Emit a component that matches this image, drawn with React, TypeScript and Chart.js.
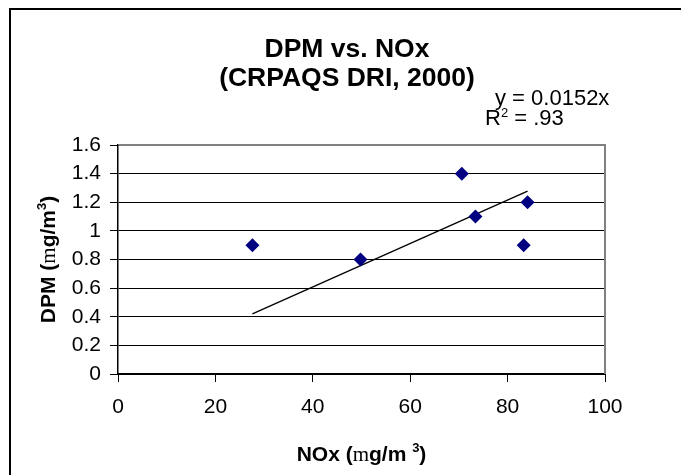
import React, { useEffect, useRef } from 'react';
import { Chart, registerables } from 'chart.js';

Chart.register(...registerables);

// ---- data ----
const noxValues = [27.6, 49.8, 70.6, 73.4, 84.1, 83.3];
const dpmValues = [0.9, 0.8, 1.4, 1.1, 1.2, 0.9];
const trendSlope = 0.0152;
const xTickLabels = ['0', '20', '40', '60', '80', '100'];
const yTickLabels = ['0', '0.2', '0.4', '0.6', '0.8', '1', '1.2', '1.4', '1.6'];
const titleLines = ['DPM vs. NOx', '(CRPAQS DRI, 2000)'];
const equationText = 'y = 0.0152x';
const r2Value = '.93';

const SANS = '"Liberation Sans", Arial, sans-serif';
const SERIF = '"Liberation Serif", "Times New Roman", serif';

type Run = { t: string; font: string; dy?: number };

function runsWidth(ctx: CanvasRenderingContext2D, runs: Run[]) {
  let w = 0;
  for (const r of runs) {
    ctx.font = r.font;
    w += ctx.measureText(r.t).width;
  }
  return w;
}

function drawRuns(ctx: CanvasRenderingContext2D, runs: Run[], x: number, y: number) {
  let cx = x;
  for (const r of runs) {
    ctx.font = r.font;
    ctx.fillText(r.t, cx, y + (r.dy || 0));
    cx += ctx.measureText(r.t).width;
  }
}

const decorPlugin = {
  id: 'decor',
  beforeDraw(chart: any) {
    const ctx = chart.ctx as CanvasRenderingContext2D;
    ctx.save();
    ctx.fillStyle = '#ffffff';
    ctx.fillRect(0, 0, chart.width, chart.height);
    ctx.strokeStyle = '#000000';
    ctx.lineWidth = 2;
    ctx.beginPath();
    ctx.moveTo(10, chart.height + 10);
    ctx.lineTo(10, 9);
    ctx.lineTo(chart.width + 10, 9);
    ctx.stroke();
    ctx.restore();
  },
  beforeDatasetsDraw(chart: any) {
    const ctx = chart.ctx as CanvasRenderingContext2D;
    const a = chart.chartArea;
    ctx.save();
    ctx.strokeStyle = '#808080';
    ctx.lineWidth = 2;
    ctx.beginPath();
    ctx.moveTo(a.left + 1, a.top);
    ctx.lineTo(a.right, a.top);
    ctx.lineTo(a.right, a.bottom);
    ctx.stroke();
    ctx.restore();
  },
  afterDraw(chart: any) {
    const ctx = chart.ctx as CanvasRenderingContext2D;
    const a = chart.chartArea;
    ctx.save();
    ctx.fillStyle = '#000000';
    ctx.textBaseline = 'alphabetic';

    // Title
    ctx.textAlign = 'center';
    ctx.font = `bold 26.5px ${SANS}`;
    ctx.fillText(titleLines[0], 347, 57);
    ctx.fillText(titleLines[1], 347, 86);

    // Equation annotation
    ctx.textAlign = 'left';
    drawRuns(ctx, [{ t: equationText, font: `22px ${SANS}` }], 495, 105);
    drawRuns(
      ctx,
      [
        { t: 'R', font: `22px ${SANS}` },
        { t: '2', font: `13px ${SANS}`, dy: -8 },
        { t: ' = ' + r2Value, font: `22px ${SANS}` },
      ],
      485,
      125
    );

    // X axis title
    const bold = `bold 21px ${SANS}`;
    const xRuns: Run[] = [
      { t: 'NOx (', font: bold },
      { t: 'm', font: `21px ${SERIF}` },
      { t: 'g/m ', font: bold },
      { t: '3', font: `bold 13px ${SANS}`, dy: -9 },
      { t: ')', font: bold },
    ];
    const cx = (a.left + a.right) / 2;
    const xw = runsWidth(ctx, xRuns);
    drawRuns(ctx, xRuns, cx - xw / 2, 461);

    // Y axis title
    const yRuns: Run[] = [
      { t: 'DPM (', font: bold },
      { t: 'm', font: `21px ${SERIF}` },
      { t: 'g/m', font: bold },
      { t: '3', font: `bold 13px ${SANS}`, dy: -9 },
      { t: ')', font: bold },
    ];
    const yw = runsWidth(ctx, yRuns);
    ctx.translate(55, (a.top + a.bottom) / 2);
    ctx.rotate(-Math.PI / 2);
    drawRuns(ctx, yRuns, -yw / 2, 0);
    ctx.restore();
  },
};

export default function App() {
  const ref = useRef<HTMLCanvasElement>(null);

  useEffect(() => {
    const canvas = ref.current;
    if (!canvas) return;
    const points = noxValues.map((x, i) => ({ x, y: dpmValues[i] }));
    const xMin = Math.min(...noxValues);
    const xMax = Math.max(...noxValues);
    const trend = [
      { x: xMin, y: trendSlope * xMin },
      { x: xMax, y: trendSlope * xMax },
    ];

    const chart = new Chart(canvas, {
      type: 'scatter',
      data: {
        datasets: [
          {
            label: 'DPM',
            data: points,
            pointStyle: 'rectRot',
            pointRadius: 7,
            backgroundColor: '#000080',
            borderColor: '#000080',
            borderWidth: 0,
          },
          {
            label: 'Trend',
            data: trend,
            showLine: true,
            borderColor: '#000000',
            borderWidth: 1.3,
            pointRadius: 0,
            fill: false,
          },
        ],
      },
      options: {
        responsive: false,
        animation: false,
        devicePixelRatio: 1,
        layout: { padding: { left: 0, top: 145, right: 76, bottom: 61 } },
        plugins: {
          legend: { display: false },
          tooltip: { enabled: false },
          title: { display: false },
        },
        scales: {
          x: {
            type: 'linear',
            min: 0,
            max: 100,
            afterFit: (s: any) => {
              s.height = 40;
            },
            ticks: {
              stepSize: 20,
              color: '#000000',
              font: { family: SANS, size: 21 },
              padding: 13,
              callback: (v: any) => xTickLabels[Math.round(Number(v) / 20)],
            },
            grid: {
              drawOnChartArea: false,
              drawTicks: true,
              tickLength: 8,
              color: '#000000',
              tickColor: '#000000',
            },
            border: { color: '#000000', width: 2 },
          },
          y: {
            type: 'linear',
            min: 0,
            max: 1.6,
            afterFit: (s: any) => {
              s.width = 118;
            },
            ticks: {
              stepSize: 0.2,
              color: '#000000',
              font: { family: SANS, size: 21 },
              padding: 9,
              callback: (v: any) => yTickLabels[Math.round(Number(v) * 5)],
            },
            grid: {
              drawOnChartArea: true,
              drawTicks: true,
              tickLength: 8,
              color: '#000000',
              tickColor: '#000000',
              lineWidth: 1,
            },
            border: { color: '#000000', width: 1.5 },
          },
        },
      },
      plugins: [decorPlugin],
    } as any);

    return () => chart.destroy();
  }, []);

  return (
    <div style={{ position: 'absolute', left: 0, top: 0, width: 681, height: 475, background: '#ffffff' }}>
      <canvas ref={ref} width={681} height={475} style={{ display: 'block', width: 681, height: 475 }} />
    </div>
  );
}
